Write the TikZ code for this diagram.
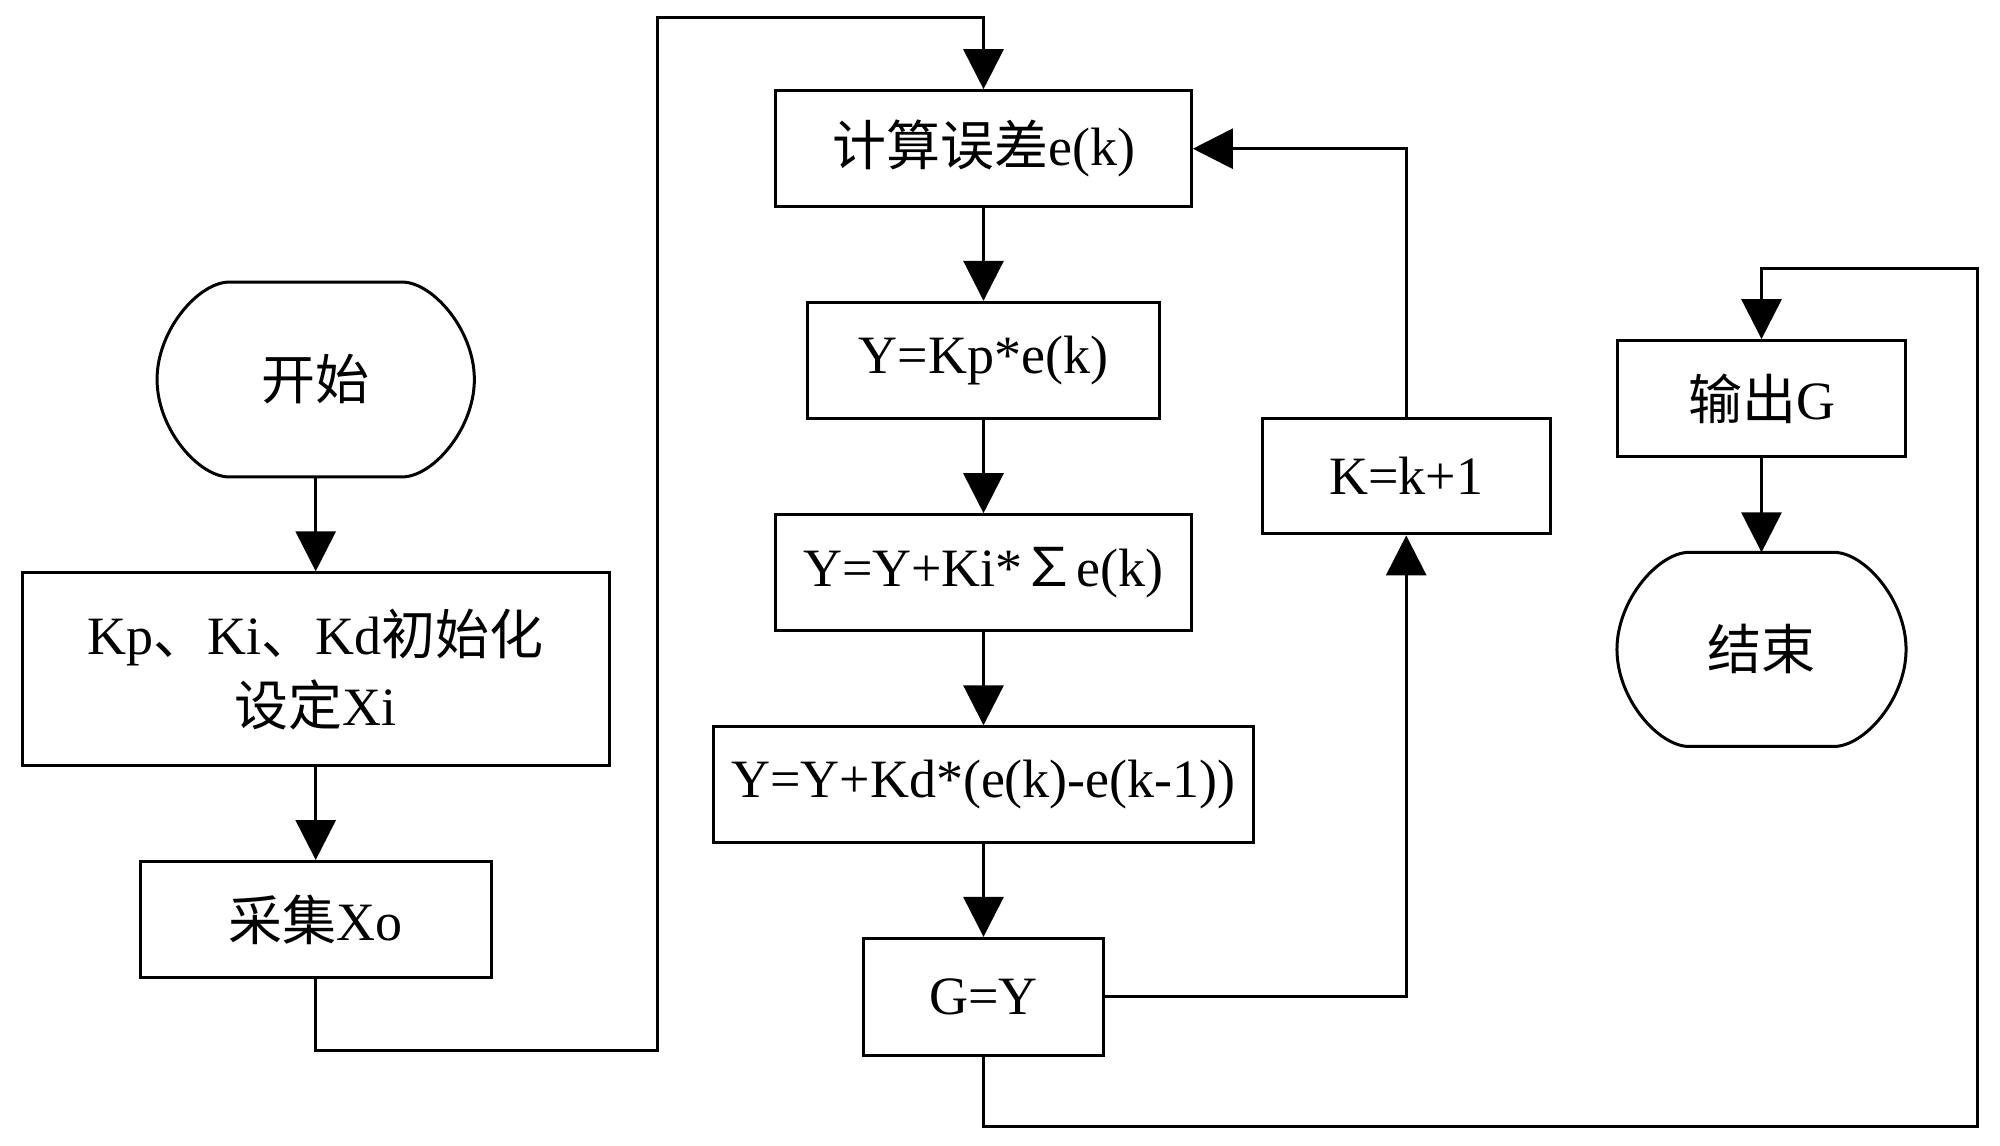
\documentclass[tikz,border=0pt]{standalone}
\usepackage{fontspec}
\setmainfont{Liberation Serif}
\newfontfamily\cjk{Noto Sans CJK SC}
\usetikzlibrary{arrows.meta}
\newcommand\termshape[1]{%
  \draw[line] ([xshift=36pt]#1.north west) -- ([xshift=-36pt]#1.north east)
    .. controls ([xshift=-21pt]#1.north east) and ([yshift=25pt]#1.east) .. (#1.east)
    .. controls ([yshift=-25pt]#1.east) and ([xshift=-21pt]#1.south east) .. ([xshift=-36pt]#1.south east)
    -- ([xshift=36pt]#1.south west)
    .. controls ([xshift=21pt]#1.south west) and ([yshift=-25pt]#1.west) .. (#1.west)
    .. controls ([yshift=25pt]#1.west) and ([xshift=21pt]#1.north west) .. cycle;}
\begin{document}
\begin{tikzpicture}[x=0.5pt,y=-0.5pt,
  line/.style={line width=1.5pt, line join=miter},
  arr/.style={line, -{Triangle[length=20pt,width=20pt]}},
  txt/.style={inner sep=0pt, align=center, font=\fontsize{27}{35.5}\selectfont},
  box/.style={txt, draw, line width=1.5pt},
  term/.style={txt}]
\useasboundingbox (0,0) rectangle (2000,1145);

% left column
\node[term, minimum width=158.25pt, minimum height=97pt] (start) at (315.7,379.5) {{\cjk 开始}};
\node[box, minimum width=293.35pt, minimum height=96.5pt] (init) at (315.7,669.3) {Kp{\cjk 、}Ki{\cjk 、}Kd{\cjk 初始化}\\{\cjk 设定}Xi};
\node[box, minimum width=175.65pt, minimum height=58pt] (collect) at (315.7,919.5) {{\cjk 采集}Xo};

% centre column
\node[box, minimum width=207.9pt, minimum height=58pt] (calc) at (983.5,148.7) {{\cjk 计算误差}e(k)};
\node[box, minimum width=175.7pt, minimum height=58.2pt] (kp) at (983.5,360.5) {Y=Kp*e(k)};
\node[box, minimum width=207.9pt, minimum height=58pt] (ki) at (983.5,572.7) {Y=Y+Ki*{\cjk ∑}e(k)};
\node[box, minimum width=270.4pt, minimum height=57.8pt] (kd) at (983.5,784.6) {Y=Y+Kd*(e(k)-e(k-1))};
\node[box, minimum width=120.25pt, minimum height=58.35pt] (gy) at (983.5,996.75) {G=Y};

% K column
\node[box, minimum width=144.2pt, minimum height=57.8pt] (kk) at (1406.2,476.1) {K=k+1};

% right column
\node[box, minimum width=144.15pt, minimum height=58pt] (out) at (1761.5,398.6) {{\cjk 输出}G};
\node[term, minimum width=144.15pt, minimum height=96.65pt] (end) at (1761.5,649.4) {{\cjk 结束}};

\termshape{start}
\termshape{end}

% loop coordinates
\coordinate (lb) at (657,1050.2);
\coordinate (lt) at (657,17.2);
\coordinate (rb) at (1977.7,1126.7);
\coordinate (rt) at (1977.7,268.7);

% connectors
\draw[arr] (start) -- (init);
\draw[arr] (init) -- (collect);
\draw[arr] (collect.south) |- (lb) -- (lt) -| (calc.north);
\draw[arr] (calc) -- (kp);
\draw[arr] (kp) -- (ki);
\draw[arr] (ki) -- (kd);
\draw[arr] (kd) -- (gy);
\draw[arr] (gy.east) -| (kk.south);
\draw[arr] (kk.north) |- (calc.east);
\draw[arr] (gy.south) |- (rb) -- (rt) -| (out.north);
\draw[arr] (out) -- (end);
\end{tikzpicture}
\end{document}
